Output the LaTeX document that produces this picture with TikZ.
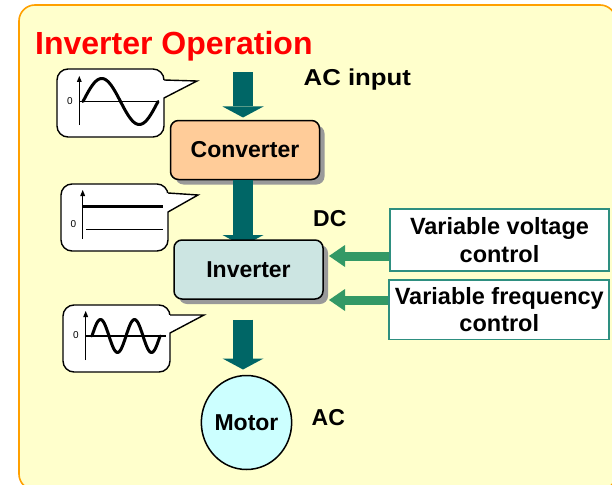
\documentclass[tikz,border=0pt]{standalone}
\usepackage{fontspec}
\setmainfont{Liberation Sans}
\usetikzlibrary{arrows.meta,calc,shapes.geometric,shadows}
\definecolor{bgyellow}{HTML}{FFFFCC}
\definecolor{frameorange}{HTML}{FFA000}
\definecolor{titlered}{HTML}{FF0000}
\definecolor{tealarrow}{HTML}{006666}
\definecolor{greenarrow}{HTML}{339966}
\definecolor{ctrlborder}{HTML}{2E8F80}
\definecolor{convfill}{HTML}{FFCC99}
\definecolor{invfill}{HTML}{CCE5E2}
\definecolor{motorfill}{HTML}{CCFFFF}
\definecolor{shadowgray}{HTML}{999999}
\begin{document}
\begin{tikzpicture}[x=1pt,y=-1pt,
  labelfont/.style={font=\fontsize{23}{27.5}\selectfont\bfseries},
  procbox/.style={draw=black, line width=1.5pt, rounded corners=8pt, labelfont,
    minimum width=149pt, minimum height=59pt, inner sep=0pt,
    drop shadow={fill=shadowgray, opacity=1, shadow xshift=5pt, shadow yshift=-5pt}},
  ctrlbox/.style={draw=ctrlborder, line width=1.8pt, fill=white, align=center,
    font=\fontsize{23.5}{27.5}\selectfont\bfseries, inner sep=0pt},
  tarrow/.style={draw=tealarrow, line width=20.5pt,
    -{Triangle[length=11pt,width=41pt,line width=0pt]}},
  garrow/.style={draw=greenarrow, line width=9pt,
    -{Triangle[length=16pt,width=22pt,line width=0pt]}},
  bubble/.style={draw=black, fill=white, line width=1.4pt, rounded corners=11pt},
  bubbleline/.style={draw=black, line width=1.4pt},
  axisline/.style={draw=black, line width=1.2pt},
  axisarrow/.style={axisline, -{Triangle[length=6pt,width=5pt,line width=0pt]}},
  wave/.style={draw=black, line width=3pt, line cap=round, line join=round},
  zero/.style={font=\fontsize{10}{11}\selectfont, inner sep=0pt}
]
\useasboundingbox (0,0) rectangle (612,484);
\fill[white] (0,0) rectangle (612,484);
% frame
\draw[draw=frameorange, fill=bgyellow, line width=1.6pt, rounded corners=16pt]
  (19,5) rectangle (616,490);
% title
\node[anchor=base west, text=titlered, inner sep=0pt,
  font=\fontsize{32}{36}\selectfont\bfseries] (title) at (35,55) {Inverter Operation};

% ---- bubble 1: AC sine
\draw[bubble] (57,69) rectangle (164,137);
\fill[white] (162.6,80) -- (197,81) -- (162.6,98) -- cycle;
\draw[bubbleline] (164,80) -- (197,81) -- (164,98);
\coordinate (ax1b) at (79.3,125);
\coordinate (ax1t) at (79.3,76);
\draw[axisarrow] (ax1b) -- (ax1t);
\coordinate (h1a) at (79.3,101.5);
\coordinate (h1b) at (159,101.5);
\draw[axisline] (h1a) -- (h1b);
\node[zero] (z1) at (70,101) {0};
\draw[wave] plot[domain=83:158, samples=80, smooth] (\x, {101.5 - 23*sin((\x-83)/75*360)});

% ---- bubble 2: DC
\draw[bubble] (61,184) rectangle (168,251);
\fill[white] (166.6,193) -- (198,195) -- (166.6,212) -- cycle;
\draw[bubbleline] (168,193) -- (198,195) -- (168,212);
\coordinate (ax2b) at (82.7,239);
\coordinate (ax2t) at (82.7,190);
\draw[axisarrow] (ax2b) -- (ax2t);
\coordinate (d2a) at (82.7,206.7);
\coordinate (d2b) at (163,206.7);
\draw[draw=black, line width=3.2pt] (d2a) -- (d2b);
\coordinate (h2a) at (86,229.3);
\coordinate (h2b) at (163,229.3);
\draw[axisline] (h2a) -- (h2b);
\node[zero] (z2) at (73.3,224) {0};

% ---- bubble 3: AC output
\draw[bubble] (63,305) rectangle (170,372);
\fill[white] (168.6,315) -- (204,315) -- (168.6,333) -- cycle;
\draw[bubbleline] (170,315) -- (204,315) -- (170,333);
\coordinate (ax3b) at (85.7,360);
\coordinate (ax3t) at (85.7,311);
\draw[axisarrow] (ax3b) -- (ax3t);
\coordinate (h3a) at (85.7,336);
\coordinate (h3b) at (166,336);
\draw[axisline] (h3a) -- (h3b);
\node[zero] (z3) at (76,335) {0};
\draw[wave] plot[domain=92:160, samples=100, smooth] (\x, {336 - 16.5*sin((\x-92)/34*360)});

% ---- process chain
\coordinate (acin) at (243,72.5);
\coordinate (convin) at (243,117.5);
\node[procbox, fill=convfill] (conv) at (245,150) {Converter};
\draw[tarrow] (acin) -- (convin);

\coordinate (convout) at (243,180);
\coordinate (invin) at (243,246);
\draw[tarrow] (convout) -- (invin);
\node[procbox, fill=invfill] (inv) at (248.5,269.5) {Inverter};

\coordinate (invout) at (243,319.5);
\coordinate (motin) at (243,369.5);
\draw[tarrow] (invout) -- (motin);
\node[ellipse, draw=black, line width=1.5pt, fill=motorfill, inner sep=0pt,
  minimum width=90pt, minimum height=94pt, labelfont] (motor) at (246.5,422.5) {Motor};

% labels
\node[anchor=base west, inner sep=0pt, font=\fontsize{23}{27}\selectfont\bfseries]
  (aclbl) at (303.5,86) {\scalebox{1.12}[1]{AC input}};
\node[anchor=base west, inner sep=0pt, labelfont] (dclbl) at (313,226) {DC};
\node[anchor=base west, inner sep=0pt, labelfont] (aclbl2) at (311.5,425) {AC};

% control boxes
\node[ctrlbox, minimum width=219pt, minimum height=61.5pt] (vv) at (499.5,240)
  {Variable voltage\\control};
\node[ctrlbox, minimum width=220pt, minimum height=59.5pt] (vf) at (499.3,309.7)
  {Variable frequency\\control};
\coordinate (vvtip) at (329,256);
\coordinate (vftip) at (329,300);
\draw[garrow] (vv.west |- vvtip) -- (vvtip);
\draw[garrow] (vf.west |- vftip) -- (vftip);
\end{tikzpicture}
\end{document}
